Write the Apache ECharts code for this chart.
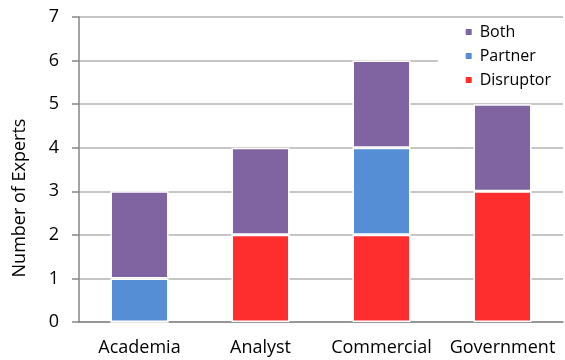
<!DOCTYPE html>
<html>
<head>
<meta charset="utf-8">
<script src="https://cdn.jsdelivr.net/npm/echarts@6/dist/echarts.min.js"></script>
<style>
  html, body { margin: 0; padding: 0; background: #fff; }
  #chart { width: 565px; height: 360px; }
</style>
</head>
<body>
<div id="chart"></div>
<script>
// categories and values
var categories = ["Academia", "Analyst", "Commercial", "Government"];
var disruptor = [0, 2, 2, 3];
var partner = [1, 0, 2, 0];
var both = [2, 2, 2, 2];
var yTicks = [0, 1, 2, 3, 4, 5, 6, 7];

var font = "Open Sans";

var myChart = echarts.init(document.getElementById("chart"));

function barSeries(name, data, color) {
  return {
    name: name,
    type: "bar",
    stack: "total",
    barWidth: "48%",
    data: data,
    itemStyle: { color: color, borderColor: "#fff", borderWidth: 1.5 },
  };
}

var option = {
  animation: false,
  textStyle: { fontFamily: font },
  grid: { left: 79, right: 2, top: 17, bottom: 38 },
  legend: {
    data: ["Both", "Partner", "Disruptor"],
    orient: "vertical",
    right: 2,
    top: 22,
    itemWidth: 8,
    itemHeight: 8,
    itemGap: 8,
    icon: "rect",
    backgroundColor: "#fff",
    padding: [2, 12, 4, 26],
    textStyle: { fontFamily: font, fontSize: 16, color: "#000", padding: [0, 0, 0, 2] },
  },
  graphic: [
    {
      type: "text",
      x: 20,
      y: 198,
      rotation: Math.PI / 2,
      style: {
        text: "Number of Experts",
        font: "18px '" + font + "'",
        fill: "#000",
        align: "center",
        verticalAlign: "middle",
      },
    },
  ],
  xAxis: {
    type: "category",
    data: categories,
    axisLine: { lineStyle: { color: "#868686", width: 1.5 } },
    axisTick: { length: 6, lineStyle: { color: "#868686", width: 1.5 } },
    axisLabel: { color: "#000", fontSize: 18, margin: 17, interval: 0, fontFamily: font },
  },
  yAxis: {
    type: "value",
    min: yTicks[0],
    max: yTicks[yTicks.length - 1],
    interval: 1,
    axisLine: { show: true, lineStyle: { color: "#868686", width: 1.5 } },
    axisTick: { show: true, length: 7, lineStyle: { color: "#868686", width: 1.5 } },
    axisLabel: { color: "#000", fontSize: 18, margin: 20, fontFamily: font },
    splitLine: { lineStyle: { color: "#b3b3b3", width: 1.5 } },
  },
  series: [
    barSeries("Disruptor", disruptor, "#ff2e2e"),
    barSeries("Partner", partner, "#558ed5"),
    barSeries("Both", both, "#8064a2"),
  ],
};

myChart.setOption(option);
</script>
</body>
</html>
